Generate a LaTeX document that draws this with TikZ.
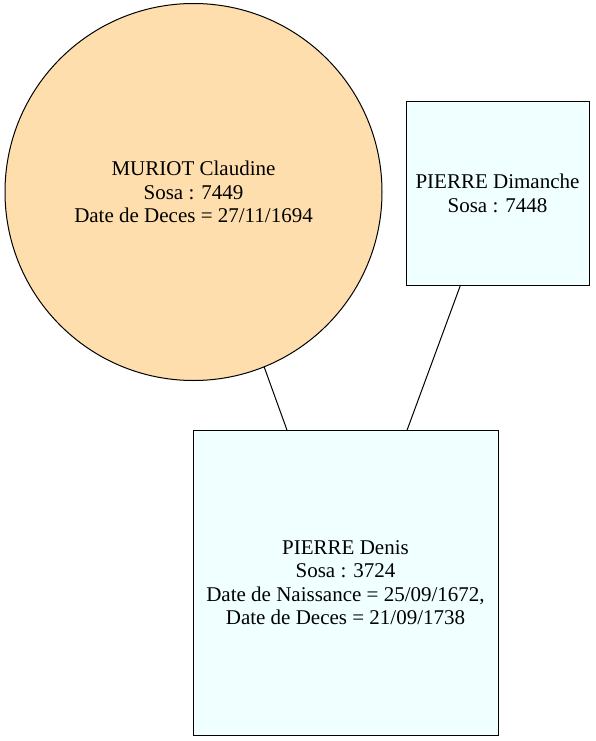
\documentclass[tikz,border=0pt]{standalone}
\usepackage{fontspec}
\setmainfont{Liberation Serif}
\definecolor{navajo}{HTML}{FFDEAD}
\definecolor{azur}{HTML}{F0FFFF}

\begin{document}
\begin{tikzpicture}[x=1pt, y=-1pt, line width=1pt,
  person/.style={draw, align=center, inner sep=0pt, outer sep=0pt,
    font=\fontsize{21}{23.5}\selectfont},
  homme/.style={person, rectangle, fill=azur},
  femme/.style={person, circle, fill=navajo}]

  \useasboundingbox (0,0) rectangle (595,741);

  % la mere, a gauche en haut
  \node[femme, minimum size=377pt] (muriot) at (193.5,192)
    {MURIOT Claudine\\Sosa : 7449\\Date de Deces = 27/11/1694};
  % le pere, a droite
  \node[homme, minimum width=183pt, minimum height=183pt] (dimanche) at (497.5,193.5)
    {PIERRE Dimanche\\Sosa : 7448};
  % l'enfant, en bas
  \node[homme, minimum width=305pt, minimum height=305pt] (denis) at (345.5,582.5)
    {PIERRE Denis\\Sosa : 3724\\Date de Naissance = 25/09/1672,\\Date de Deces = 21/09/1738};

  % liens parents -- enfant
  \draw (muriot.-68.7) -- (denis.111);
  \draw (dimanche.248.3) -- (denis.68.7);
\end{tikzpicture}
\end{document}
